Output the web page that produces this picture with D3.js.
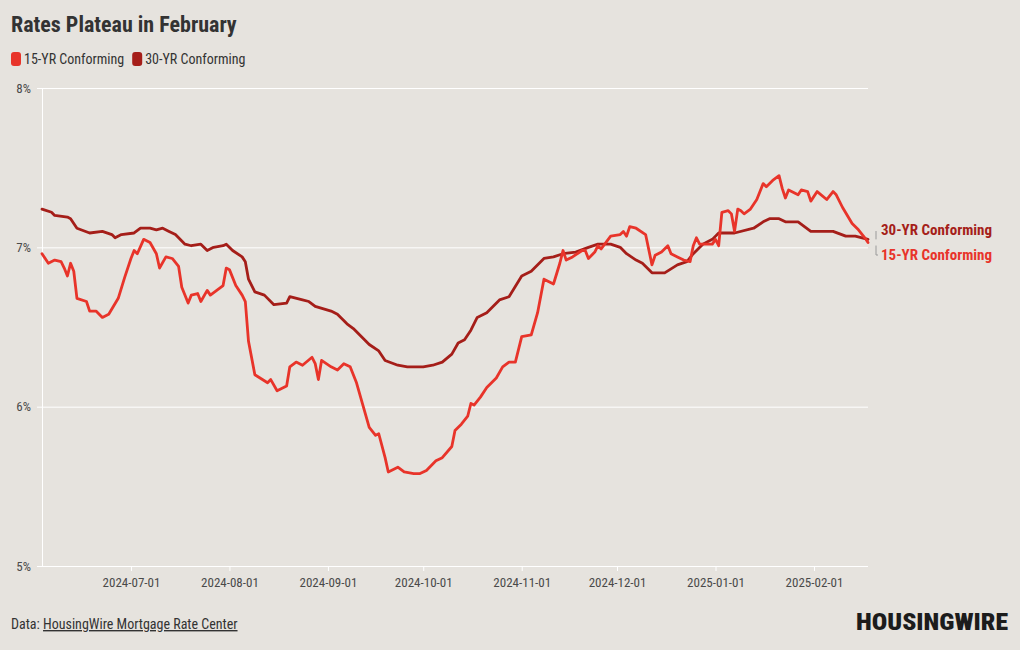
<!DOCTYPE html>
<html>
<head>
<meta charset="utf-8">
<script src="https://cdn.jsdelivr.net/npm/d3@7"></script>
<style>
    body { margin: 0; background: #e6e3de; }
    svg text { font-family: "Roboto Condensed", "Liberation Sans Narrow", "DejaVu Sans Condensed", Roboto, sans-serif; font-stretch: condensed; }
    .axis-text { fill: #4a4a4a; font-size: 13px; }
</style>
</head>
<body>
<div class="chart"></div>
<script>
//########################  1.  Data  ###################################//

var dates15 = ["2024-06-03","2024-06-05","2024-06-07","2024-06-09","2024-06-10","2024-06-11","2024-06-12","2024-06-13","2024-06-14","2024-06-17",
    "2024-06-18","2024-06-20","2024-06-22","2024-06-24","2024-06-27","2024-06-29","2024-07-01","2024-07-02","2024-07-03","2024-07-05",
    "2024-07-07","2024-07-09","2024-07-10","2024-07-12","2024-07-14","2024-07-16","2024-07-17","2024-07-19","2024-07-20","2024-07-22",
    "2024-07-23","2024-07-25","2024-07-26","2024-07-28","2024-07-30","2024-07-31","2024-08-01","2024-08-03","2024-08-05","2024-08-06",
    "2024-08-07","2024-08-09","2024-08-13","2024-08-14","2024-08-16","2024-08-19","2024-08-20","2024-08-22","2024-08-24","2024-08-27",
    "2024-08-28","2024-08-29","2024-08-30","2024-09-02","2024-09-04","2024-09-06","2024-09-08","2024-09-10","2024-09-12","2024-09-14",
    "2024-09-16","2024-09-17","2024-09-19","2024-09-20","2024-09-23","2024-09-25","2024-09-28","2024-09-30","2024-10-02","2024-10-05",
    "2024-10-07","2024-10-10","2024-10-11","2024-10-13","2024-10-15","2024-10-16","2024-10-17","2024-10-19","2024-10-21","2024-10-24",
    "2024-10-26","2024-10-28","2024-10-30","2024-11-01","2024-11-04","2024-11-06","2024-11-08","2024-11-11","2024-11-13","2024-11-14",
    "2024-11-15","2024-11-17","2024-11-20","2024-11-21","2024-11-22","2024-11-24","2024-11-25","2024-11-26","2024-11-29","2024-12-02",
    "2024-12-03","2024-12-04","2024-12-05","2024-12-07","2024-12-10","2024-12-12","2024-12-13","2024-12-15","2024-12-17","2024-12-18",
    "2024-12-20","2024-12-22","2024-12-24","2024-12-25","2024-12-26","2024-12-27","2024-12-31","2025-01-01","2025-01-02","2025-01-03",
    "2025-01-05","2025-01-06","2025-01-07","2025-01-08","2025-01-09","2025-01-10","2025-01-12","2025-01-14","2025-01-16","2025-01-17",
    "2025-01-19","2025-01-21","2025-01-22","2025-01-23","2025-01-24","2025-01-27","2025-01-28","2025-01-30","2025-01-31","2025-02-02",
    "2025-02-05","2025-02-07","2025-02-08","2025-02-10","2025-02-13","2025-02-15","2025-02-17","2025-02-18"];
var rates15 = [6.96,6.90,6.92,6.91,6.87,6.82,6.90,6.85,6.68,6.66,
    6.60,6.60,6.56,6.58,6.68,6.81,6.93,6.98,6.96,7.05,
    7.03,6.96,6.87,6.94,6.93,6.88,6.75,6.65,6.70,6.71,
    6.66,6.73,6.70,6.73,6.76,6.87,6.86,6.76,6.70,6.66,
    6.41,6.20,6.15,6.17,6.10,6.13,6.25,6.28,6.26,6.31,
    6.27,6.17,6.29,6.25,6.23,6.27,6.25,6.15,6.01,5.87,
    5.82,5.83,5.68,5.59,5.62,5.59,5.58,5.58,5.60,5.66,
    5.68,5.75,5.85,5.89,5.94,6.02,6.01,6.06,6.12,6.18,
    6.25,6.28,6.28,6.44,6.45,6.59,6.80,6.77,6.90,6.98,
    6.92,6.94,6.98,6.98,6.93,6.97,7.01,6.99,7.07,7.08,
    7.10,7.07,7.13,7.12,7.08,6.89,6.95,6.97,7.01,6.96,
    6.94,6.92,6.91,7.01,7.06,7.02,7.02,7.05,7.01,7.22,
    7.23,7.21,7.10,7.24,7.23,7.21,7.24,7.30,7.40,7.38,
    7.42,7.45,7.37,7.31,7.36,7.33,7.36,7.35,7.29,7.35,
    7.30,7.35,7.33,7.25,7.15,7.11,7.06,7.03];

var dates30 = ["2024-06-03","2024-06-06","2024-06-07","2024-06-11","2024-06-12","2024-06-14","2024-06-18","2024-06-22","2024-06-25","2024-06-26",
    "2024-06-28","2024-07-02","2024-07-04","2024-07-07","2024-07-09","2024-07-11","2024-07-13","2024-07-15","2024-07-18","2024-07-20",
    "2024-07-23","2024-07-25","2024-07-27","2024-07-30","2024-07-31","2024-08-02","2024-08-05","2024-08-06","2024-08-07","2024-08-09",
    "2024-08-12","2024-08-15","2024-08-19","2024-08-20","2024-08-24","2024-08-26","2024-08-28","2024-09-02","2024-09-04","2024-09-07",
    "2024-09-09","2024-09-14","2024-09-17","2024-09-19","2024-09-23","2024-09-26","2024-10-01","2024-10-04","2024-10-07","2024-10-10",
    "2024-10-12","2024-10-14","2024-10-16","2024-10-18","2024-10-21","2024-10-25","2024-10-28","2024-11-01","2024-11-04","2024-11-08",
    "2024-11-11","2024-11-14","2024-11-18","2024-11-22","2024-11-25","2024-11-29","2024-12-02","2024-12-04","2024-12-07","2024-12-09",
    "2024-12-12","2024-12-16","2024-12-20","2024-12-23","2024-12-25","2024-12-28","2024-12-31","2025-01-02","2025-01-07","2025-01-13",
    "2025-01-16","2025-01-18","2025-01-21","2025-01-23","2025-01-27","2025-01-31","2025-02-05","2025-02-07","2025-02-11","2025-02-14",
    "2025-02-18"];
var rates30 = [7.24,7.22,7.20,7.19,7.18,7.12,7.09,7.10,7.08,7.06,
    7.08,7.09,7.12,7.12,7.11,7.12,7.10,7.08,7.02,7.01,
    7.02,6.98,7.00,7.01,7.02,6.98,6.94,6.91,6.80,6.72,
    6.70,6.64,6.65,6.69,6.67,6.66,6.63,6.60,6.58,6.52,
    6.49,6.39,6.35,6.29,6.26,6.25,6.25,6.26,6.28,6.33,
    6.40,6.42,6.48,6.56,6.59,6.67,6.69,6.82,6.85,6.93,
    6.94,6.96,6.97,7.00,7.02,7.02,7.00,6.96,6.92,6.90,
    6.84,6.84,6.89,6.91,6.96,7.02,7.05,7.09,7.09,7.12,
    7.16,7.18,7.18,7.16,7.16,7.10,7.10,7.10,7.07,7.07,
    7.05];

var xTickDates = ["2024-07-01","2024-08-01","2024-09-01","2024-10-01","2024-11-01","2024-12-01","2025-01-01","2025-02-01"];
var yTickValues = [5, 6, 7, 8];
var seriesNames = ["15-YR Conforming", "30-YR Conforming"];
var seriesColors = ["#e8342a", "#a51e19"];

//########################  2.  SVG Setup ###################################//

var svgWidth = 1020;
var svgHeight = 650;

var margin = { top: 88, right: 152, bottom: 84, left: 42 };
var width = svgWidth - margin.left - margin.right;
var height = svgHeight - margin.top - margin.bottom;

var parseDate = d3.utcParse("%Y-%m-%d");

var svg = d3.select(".chart")
    .append("svg")
    .attr("width", svgWidth)
    .attr("height", svgHeight);

svg.append("rect")
    .attr("width", svgWidth)
    .attr("height", svgHeight)
    .attr("fill", "#e6e3de");

var chartGroup = svg.append("g")
    .attr("transform", `translate(${margin.left}, ${margin.top})`);

// build series rows from the arrays
var series = [
    dates15.map((d, i) => ({ date: parseDate(d), rate: rates15[i] })),
    dates30.map((d, i) => ({ date: parseDate(d), rate: rates30[i] }))
];

//########################  3.  Scales & Axes ###################################//

var xTimeScale = d3.scaleUtc()
    .domain([parseDate("2024-06-03"), parseDate("2025-02-18")])
    .range([0, width]);

var yLinearScale = d3.scaleLinear()
    .domain([5, 8])
    .range([height, 0]);

// y axis with gridlines
var leftAxis = d3.axisLeft(yLinearScale)
    .tickValues(yTickValues)
    .tickFormat(d => d + "%")
    .tickSize(0)
    .tickPadding(11);

var yAxis = chartGroup.append("g")
    .call(leftAxis);
yAxis.select(".domain").remove();
yAxis.selectAll(".tick line")
    .attr("x1", -5)
    .attr("x2", width)
    .attr("stroke", "#ffffff")
    .attr("stroke-width", 1);
yAxis.selectAll("text")
    .classed("axis-text", true)
    .attr("font-family", null)
    .attr("font-size", null);

// vertical axis line
chartGroup.append("line")
    .attr("x1", 0.5)
    .attr("x2", 0.5)
    .attr("y1", 0)
    .attr("y2", height)
    .attr("stroke", "#ffffff");

var bottomAxis = d3.axisBottom(xTimeScale)
    .tickValues(xTickDates.map(parseDate))
    .tickFormat(d3.utcFormat("%Y-%m-%d"))
    .tickSize(5)
    .tickPadding(7);

var xAxis = chartGroup.append("g")
    .attr("transform", `translate(0, ${height})`)
    .call(bottomAxis);
xAxis.select(".domain").remove();
xAxis.selectAll(".tick line").attr("stroke", "#ffffff");
xAxis.selectAll("text")
    .classed("axis-text", true)
    .attr("font-family", null)
    .attr("font-size", null);

//########################  4.  Lines ###################################//

var lineGen = d3.line()
    .x(d => xTimeScale(d.date))
    .y(d => yLinearScale(d.rate));

// draw 30yr first so 15yr sits on top
[1, 0].forEach(function (k) {
    chartGroup.append("path")
        .datum(series[k])
        .attr("fill", "none")
        .attr("stroke", seriesColors[k])
        .attr("stroke-width", 2.8)
        .attr("stroke-linejoin", "round")
        .attr("stroke-linecap", "round")
        .attr("d", lineGen);
});

//########################  5.  End labels ###################################//

var endX = width + 13;
var last15 = series[0][series[0].length - 1];
var last30 = series[1][series[1].length - 1];
var labelY30 = 142;
var labelY15 = 167;

// little connector brackets
chartGroup.append("path")
    .attr("d", `M${endX - 5},${labelY30 + 1}V${yLinearScale(last30.rate)}`)
    .attr("fill", "none")
    .attr("stroke", "#9a9a9a");
chartGroup.append("path")
    .attr("d", `M${endX - 5},${yLinearScale(last15.rate) + 3}V${labelY15}H${endX - 3}`)
    .attr("fill", "none")
    .attr("stroke", "#9a9a9a");

chartGroup.append("text")
    .attr("x", endX)
    .attr("y", labelY30)
    .attr("dy", "0.35em")
    .attr("fill", seriesColors[1])
    .attr("font-weight", "bold")
    .attr("font-size", 15)
    .text(seriesNames[1]);

chartGroup.append("text")
    .attr("x", endX)
    .attr("y", labelY15)
    .attr("dy", "0.35em")
    .attr("fill", seriesColors[0])
    .attr("font-weight", "bold")
    .attr("font-size", 15)
    .text(seriesNames[0]);

//########################  6.  Title, legend, footer ###################################//

svg.append("text")
    .attr("x", 11)
    .attr("y", 32)
    .attr("fill", "#333333")
    .attr("font-weight", "bold")
    .attr("font-size", 22)
    .text("Rates Plateau in February");

var legend = svg.append("g")
    .attr("transform", "translate(11, 52)");
var legendX = 0;
seriesNames.forEach(function (name, i) {
    var item = legend.append("g").attr("transform", `translate(${legendX}, 0)`);
    item.append("rect")
        .attr("width", 10)
        .attr("height", 14)
        .attr("rx", 3)
        .attr("fill", seriesColors[i]);
    var t = item.append("text")
        .attr("x", 13)
        .attr("y", 12)
        .attr("fill", "#333333")
        .attr("font-size", 14)
        .text(name);
    legendX += 13 + t.node().getComputedTextLength() + 8;
});

var footer = svg.append("text")
    .attr("x", 11)
    .attr("y", 629)
    .attr("fill", "#333333")
    .attr("font-size", 14);
footer.append("tspan").text("Data: ");
footer.append("tspan")
    .attr("text-decoration", "underline")
    .text("HousingWire Mortgage Rate Center");

svg.append("text")
    .attr("x", 856)
    .attr("y", 630)
    .attr("fill", "#1c1c1c")
    .attr("font-weight", 900)
    .attr("font-size", 24)
    .attr("textLength", 152)
    .attr("lengthAdjust", "spacingAndGlyphs")
    .text("HOUSINGWIRE");
</script>
</body>
</html>
